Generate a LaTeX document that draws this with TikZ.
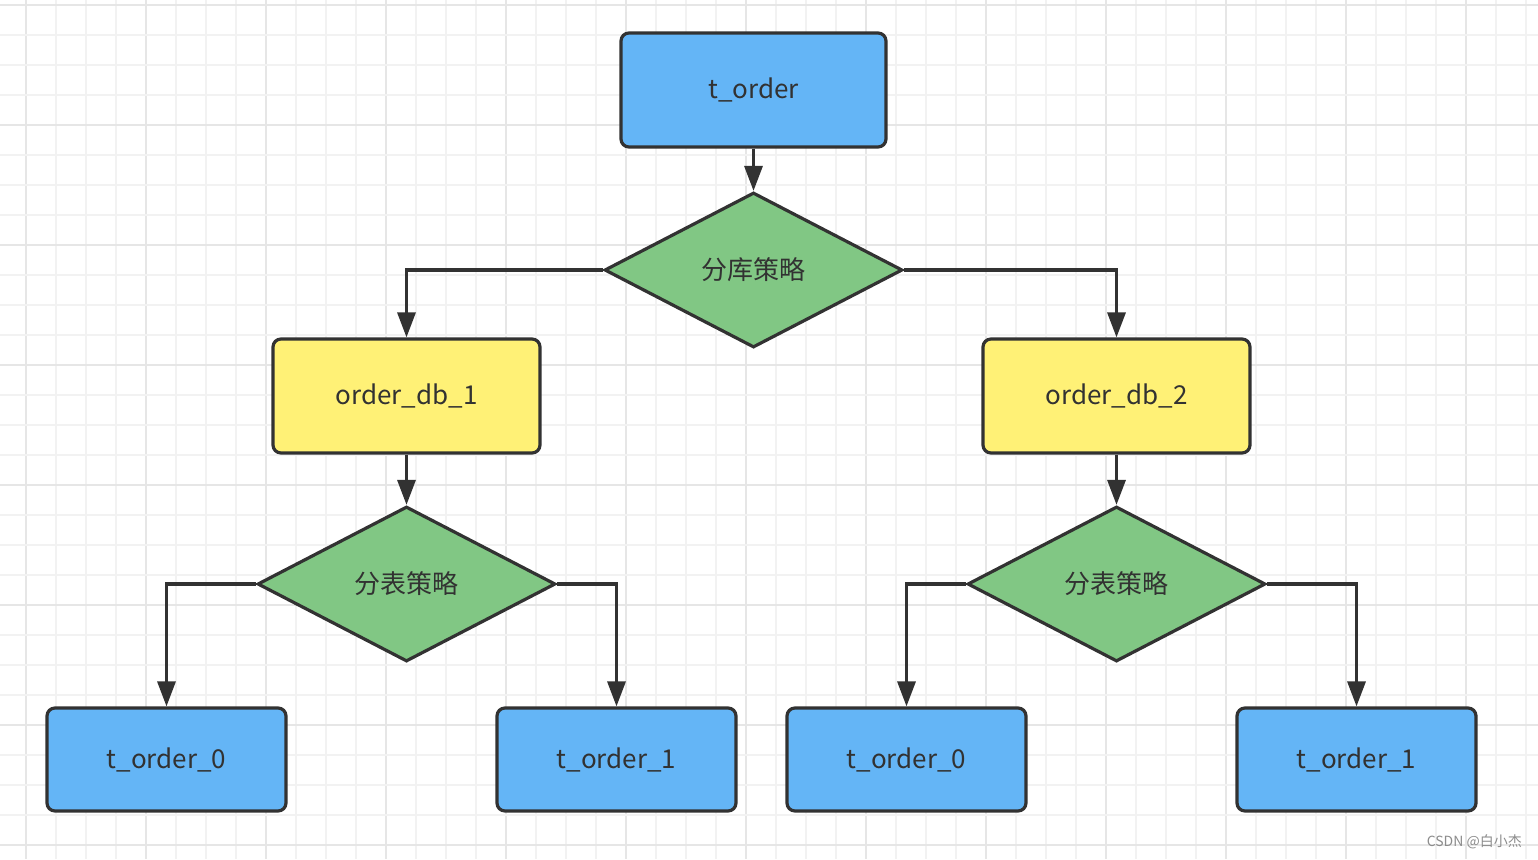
\documentclass[tikz,border=0pt]{standalone}
\usepackage{fontspec}
\setmainfont{Noto Sans CJK SC}
\usetikzlibrary{shapes.geometric,arrows.meta}
\definecolor{bluefill}{HTML}{64B5F6}
\definecolor{yellowfill}{HTML}{FFF176}
\definecolor{greenfill}{HTML}{81C784}
\definecolor{edge}{HTML}{323232}
\definecolor{minorgrid}{HTML}{F2F2F2}
\definecolor{majorgrid}{HTML}{E6E6E6}
\definecolor{wm}{HTML}{8C8C8C}
\tikzset{
  boxbase/.style={draw=edge, line width=3.2pt, rounded corners=8pt, text=edge,
    font=\fontsize{26}{30}\selectfont, inner sep=0pt},
  bluebox/.style={boxbase, fill=bluefill, minimum width=265pt, minimum height=114pt},
  ybox/.style={boxbase, fill=yellowfill, minimum width=267pt, minimum height=114pt},
  leafbox/.style={boxbase, fill=bluefill, minimum width=239pt, minimum height=103pt},
  decide/.style={diamond, draw=edge, line width=3.2pt, fill=greenfill, text=edge,
    font=\fontsize{26}{30}\selectfont, inner sep=0pt, aspect=1.92,
    minimum width=298pt, minimum height=155pt},
  arr/.style={draw=edge, line width=3.2pt, -{Triangle[length=25pt,width=18pt]}},
}
\begin{document}
\begin{tikzpicture}[x=1pt,y=-1pt]
\useasboundingbox (0,0) rectangle (1538,859);
\fill[white] (0,0) rectangle (1538,859);
% grid
\foreach \i in {0,...,52}{
  \pgfmathtruncatemacro{\m}{mod(\i,4)}
  \pgfmathsetmacro{\xx}{-4+30*\i}
  \ifnum\m=1
    \draw[majorgrid, line width=2pt] (\xx,0) -- (\xx,859);
  \else
    \draw[minorgrid, line width=2pt] (\xx,0) -- (\xx,859);
  \fi
}
\foreach \k in {0,...,28}{
  \pgfmathtruncatemacro{\m}{mod(\k,4)}
  \pgfmathsetmacro{\yy}{5+30*\k}
  \ifnum\m=0
    \draw[majorgrid, line width=2pt] (0,\yy) -- (1538,\yy);
  \else
    \draw[minorgrid, line width=2pt] (0,\yy) -- (1538,\yy);
  \fi
}
% nodes
\node[bluebox] (top) at (753.5,90) {t\_order};
\node[decide] (d1) at (753.5,270) {分库策略};
\node[ybox] (db1) at (406.5,396) {order\_db\_1};
\node[ybox] (db2) at (1116.5,396) {order\_db\_2};
\node[decide] (d2) at (406.5,584) {分表策略};
\node[decide] (d3) at (1116.5,584) {分表策略};
\node[leafbox] (l1) at (166.5,759.5) {t\_order\_0};
\node[leafbox] (l2) at (616.5,759.5) {t\_order\_1};
\node[leafbox] (l3) at (906.5,759.5) {t\_order\_0};
\node[leafbox] (l4) at (1356.5,759.5) {t\_order\_1};
% connectors
\draw[arr] (top.south) -- (d1.north);
\draw[arr] (d1.west) -| (db1.north);
\draw[arr] (d1.east) -| (db2.north);
\draw[arr] (db1.south) -- (d2.north);
\draw[arr] (db2.south) -- (d3.north);
\draw[arr] (d2.west) -| (l1.north);
\draw[arr] (d2.east) -| (l2.north);
\draw[arr] (d3.west) -| (l3.north);
\draw[arr] (d3.east) -| (l4.north);
% watermark
\node[anchor=east, text=wm, font=\fontsize{14}{16}\selectfont, inner sep=0pt] (wmk) at (1522,842) {CSDN @白小杰};
\end{tikzpicture}
\end{document}
